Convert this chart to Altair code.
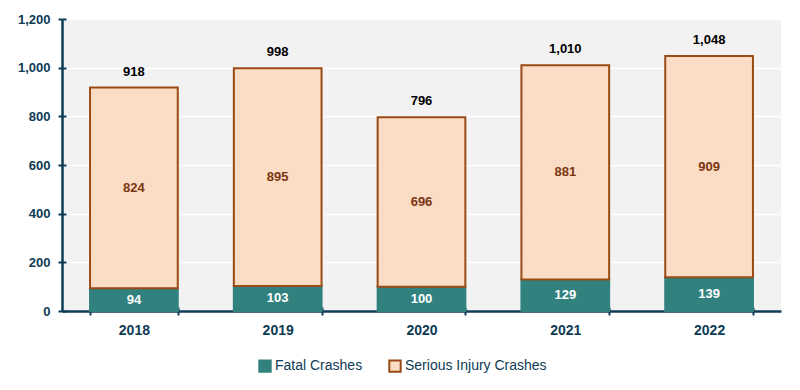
import altair as alt
import pandas as pd

years = ["2018", "2019", "2020", "2021", "2022"]
fatal = [94, 103, 100, 129, 139]
serious = [824, 895, 696, 881, 909]
series = ["Fatal Crashes", "Serious Injury Crashes"]

rows = []
for y, f, s in zip(years, fatal, serious):
    rows.append({"year": y, "type": series[0], "value": f, "order": 0,
                 "mid": f / 2, "total": f + s})
    rows.append({"year": y, "type": series[1], "value": s, "order": 1,
                 "mid": f + s / 2, "total": f + s})
df = pd.DataFrame(rows)
tot = pd.DataFrame({"year": years, "total": [f + s for f, s in zip(fatal, serious)]})

NAVY = "#0e3b55"
FONT = "Liberation Sans"
YTICKS = [0, 200, 400, 600, 800, 1000, 1200]

xscale = alt.Scale(domain=years, paddingInner=0.39, paddingOuter=0.195)
yscale = alt.Scale(domain=[0, 1200])

legend = alt.Legend(title=None, orient="none", legendX=196, legendY=340,
                    direction="horizontal", symbolType="square",
                    symbolSize=130, symbolStrokeWidth=2,
                    labelFont=FONT, labelFontSize=14, labelColor=NAVY,
                    labelOffset=3, columnPadding=22)

bars = alt.Chart(df).mark_bar(strokeWidth=2).encode(
    x=alt.X("year:N", scale=xscale, title=None,
            axis=alt.Axis(orient="bottom", labelAngle=0, labelFont=FONT, labelFontSize=14,
                          labelFontWeight="bold", labelColor=NAVY,
                          domainColor=NAVY, domainWidth=2.5,
                          tickColor=NAVY, tickWidth=2, tickSize=4,
                          tickBand="extent", labelPadding=8, grid=False)),
    y=alt.Y("value:Q", stack="zero", scale=yscale, title=None,
            axis=alt.Axis(orient="left", values=YTICKS, format=",d",
                          labelFont=FONT, labelFontSize=13, labelFontWeight="bold",
                          labelColor=NAVY, domainColor=NAVY, domainWidth=2.5,
                          tickColor=NAVY, tickWidth=2, tickSize=4, labelPadding=8,
                          grid=True, gridColor="#ffffff", gridWidth=1.5)),
    color=alt.Color("type:N", scale=alt.Scale(domain=series, range=["#31827f", "#fbdcc5"]),
                    legend=legend),
    stroke=alt.Stroke("type:N", scale=alt.Scale(domain=series, range=["#31827f", "#9a4a14"]),
                      legend=legend),
    order=alt.Order("order:Q"),
)

def inner(name, col):
    return alt.Chart(df).transform_filter(alt.datum.type == name).mark_text(
        font=FONT, fontSize=13, fontWeight="bold", baseline="middle", color=col
    ).encode(
        x=alt.X("year:N", scale=xscale, axis=None),
        y=alt.Y("mid:Q", scale=yscale, axis=None),
        text=alt.Text("value:Q", format=","),
    )

tops = alt.Chart(tot).mark_text(font=FONT, fontSize=13, fontWeight="bold", baseline="bottom",
                                dy=-9, color="#000000").encode(
    x=alt.X("year:N", scale=xscale, axis=None),
    y=alt.Y("total:Q", scale=yscale, axis=None),
    text=alt.Text("total:Q", format=","),
)

# inner halves of the crossing tick marks
ticks2 = alt.Chart(tot).mark_point(opacity=0).encode(
    x=alt.X("year:N", scale=xscale,
            axis=alt.Axis(orient="bottom", offset=-4, domain=False, labels=False, grid=False,
                          title=None, tickColor=NAVY, tickWidth=2, tickSize=4,
                          tickBand="extent")),
    y=alt.Y("total:Q", scale=yscale,
            axis=alt.Axis(orient="left", offset=-4, domain=False, labels=False, grid=False,
                          title=None, values=YTICKS,
                          tickColor=NAVY, tickWidth=2, tickSize=4)),
)

chart = alt.layer(bars, inner(series[0], "#ffffff"), inner(series[1], "#7a3610"), tops, ticks2
).resolve_axis(x="independent", y="independent").properties(
    width=719, height=292,
    padding={"left": 54, "top": 11, "right": 11, "bottom": 72},
    autosize=alt.AutoSizeParams(type="none"),
).configure_view(fill="#f2f2f2", stroke=None)

chart.save("out.html", embed_options={"renderer": "svg", "actions": False})
